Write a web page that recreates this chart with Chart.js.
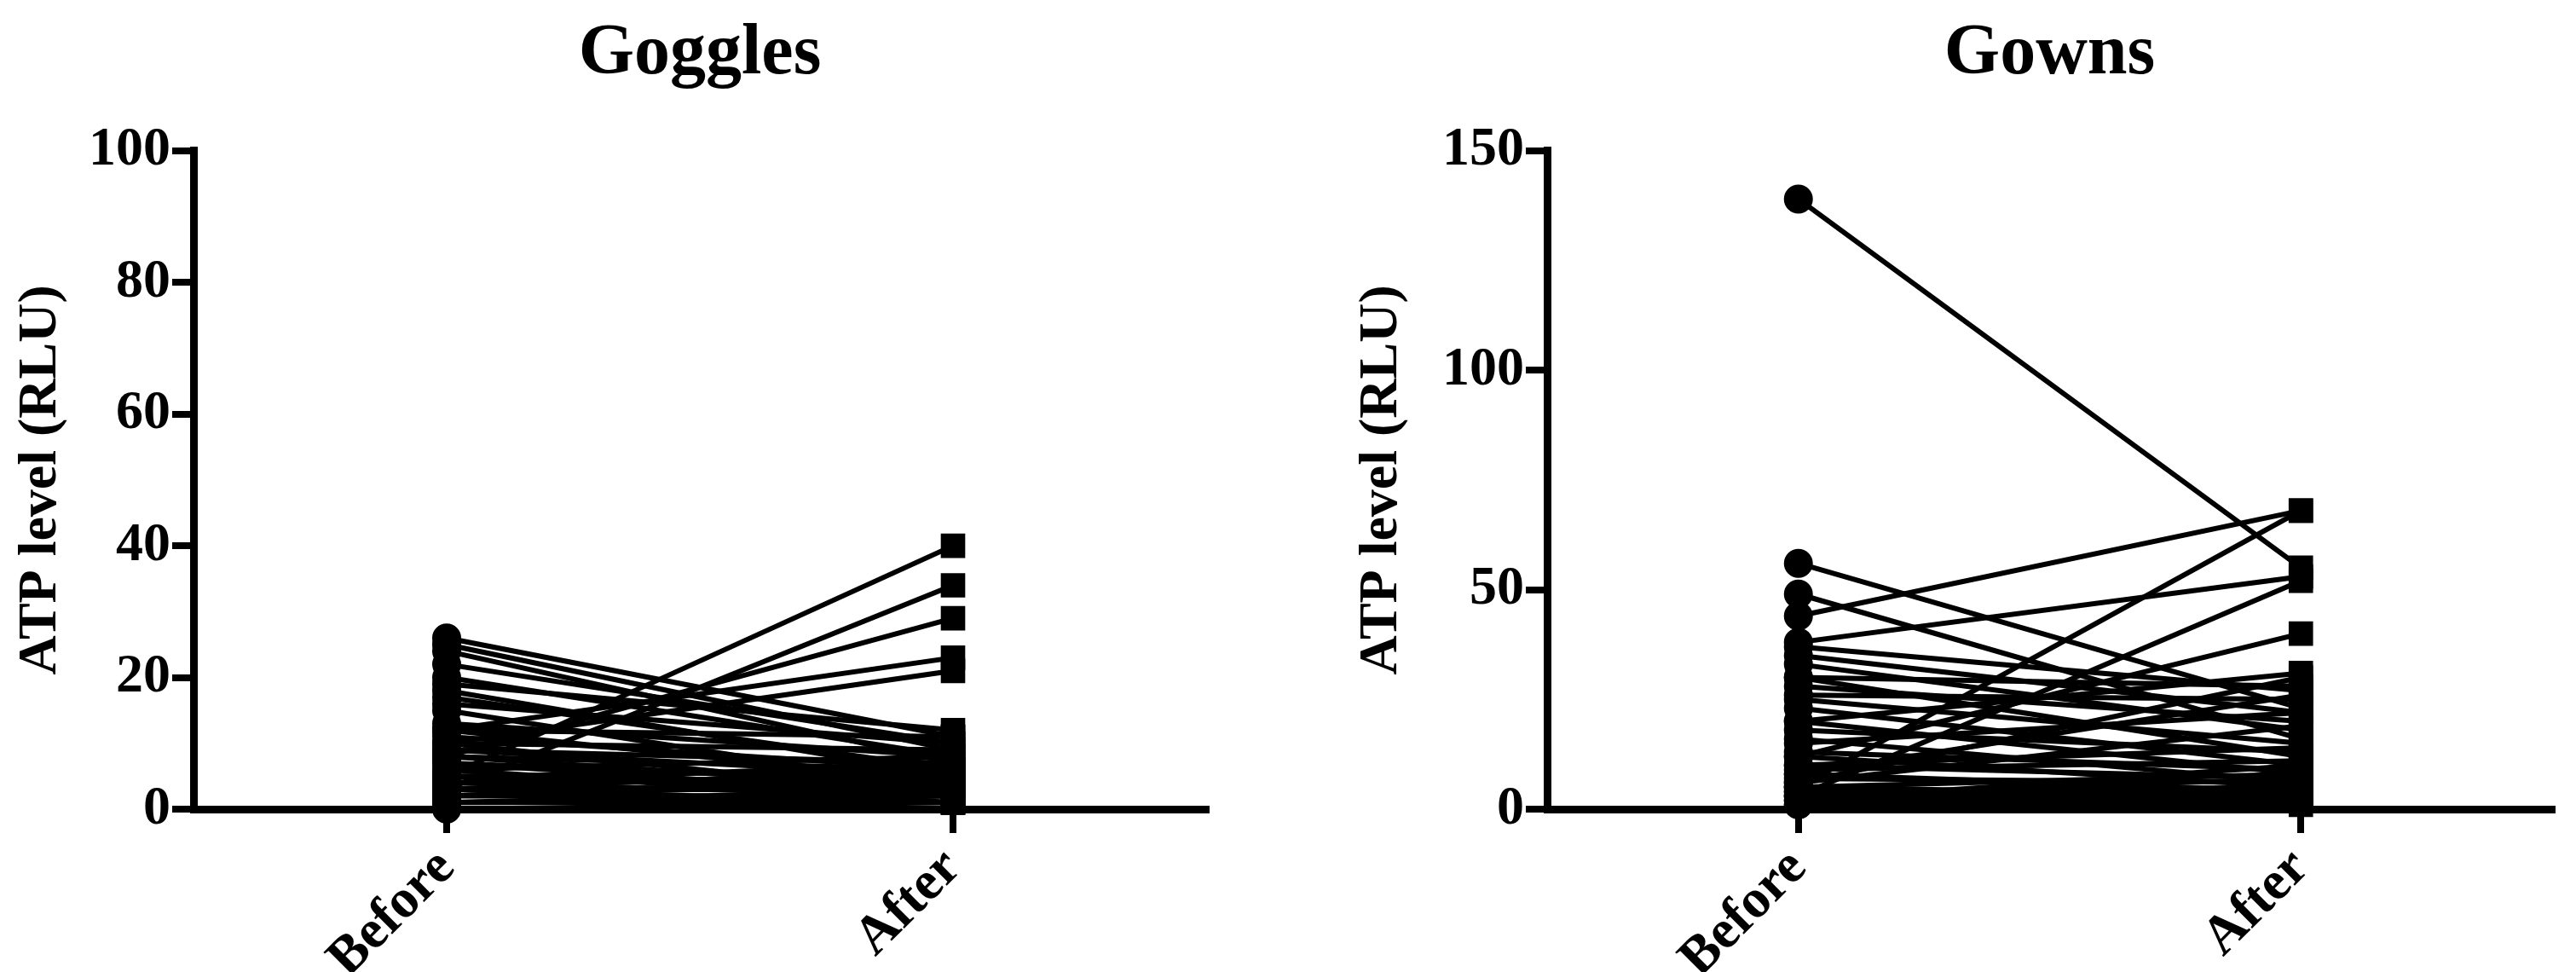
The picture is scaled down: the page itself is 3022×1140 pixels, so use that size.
<!DOCTYPE html>
<html>
<head>
<meta charset="utf-8">
<script src="https://cdn.jsdelivr.net/npm/chart.js@4/dist/chart.umd.min.js"></script>
<style>
  body { margin: 0; background: #fff; }
  .box { position: absolute; top: 0; width: 1511px; height: 1140px; }
</style>
</head>
<body>
<div class="box" style="left:0"><canvas id="goggles"></canvas></div>
<div class="box" style="left:1511px"><canvas id="gowns"></canvas></div>
<script>
const groups = ['Before', 'After'];

// paired ATP readings (RLU)
const gogglesBefore = [26, 25, 24, 22, 20, 19, 18, 17, 16, 15, 13, 12, 12, 11, 10, 10, 9, 9, 8, 8, 7, 7, 6, 6, 5, 5, 5, 4, 4, 4, 3, 3, 3, 2, 2, 2, 1, 1, 1, 0, 5, 3, 8, 12, 10];
const gogglesAfter  = [11, 9, 7, 10, 8, 12, 5, 6, 10, 3, 8, 11, 4, 6, 9, 2, 5, 7, 3, 6, 2, 4, 8, 1, 3, 6, 4, 2, 5, 7, 1, 3, 6, 2, 4, 5, 1, 3, 2, 1, 40, 34, 29, 23, 21];

const gownsBefore = [139, 56, 49, 44, 38, 37, 35, 33, 30, 30, 28, 26, 25, 23, 20, 20, 18, 16, 15, 13, 12, 10, 10, 9, 8, 7, 6, 5, 5, 4, 4, 3, 3, 2, 2, 1, 1, 5, 3, 12, 8, 6];
const gownsAfter  = [55, 23, 16, 68, 53, 27, 22, 18, 28, 12, 20, 25, 15, 10, 31, 8, 13, 6, 22, 9, 5, 14, 7, 11, 4, 6, 19, 3, 8, 5, 2, 7, 4, 10, 3, 2, 1, 68, 52, 40, 26, 30];

function makeChart(id, before, after, title, yMax, yStep, opts) {
  const datasets = before.map((b, i) => ({
    data: [b, after[i]],
    borderColor: '#000',
    backgroundColor: '#000',
    borderWidth: 6,
    pointStyle: ['circle', 'rect'],
    pointRadius: [14, 16],
    clip: false
  }));
  const font = { family: 'Liberation Serif', weight: 'bold', size: 64 };
  return new Chart(document.getElementById(id), {
    type: 'line',
    data: { labels: groups, datasets },
    options: {
      responsive: true,
      maintainAspectRatio: false,
      animation: false,
      layout: { padding: { left: opts.padLeft, right: opts.padRight, top: 10, bottom: 0 } },
      plugins: {
        legend: { display: false },
        tooltip: { enabled: false },
        title: {
          display: true,
          fullSize: false,
          text: title,
          color: '#000',
          font: { family: 'Liberation Serif', weight: 'bold', size: 84 },
          padding: { top: 4, bottom: 62 }
        }
      },
      scales: {
        x: {
          offset: true,
          border: { color: '#000', width: 9 },
          grid: { offset: false, drawOnChartArea: false, color: '#000', lineWidth: 8, tickLength: 28 },
          ticks: { color: '#000', font, minRotation: 45, maxRotation: 45, padding: 4 },
          afterFit: s => { s.height = 1140 - 949; }
        },
        y: {
          min: 0,
          max: yMax,
          border: { color: '#000', width: 9 },
          grid: { drawOnChartArea: false, color: '#000', lineWidth: 8, tickLength: 25 },
          ticks: { stepSize: yStep, color: '#000', font, padding: 2 },
          title: { display: true, text: 'ATP level (RLU)', color: '#000', font, padding: { top: opts.labelPad, bottom: 0 } },
          afterFit: s => { s.width = opts.yWidth; }
        }
      }
    }
  });
}

makeChart('goggles', gogglesBefore, gogglesAfter, 'Goggles', 100, 20,
  { padLeft: 10, padRight: 96, yWidth: 217, labelPad: 0 });
makeChart('gowns', gownsBefore, gownsAfter, 'Gowns', 150, 50,
  { padLeft: 60, padRight: 28, yWidth: 244, labelPad: 12 });
</script>
</body>
</html>
